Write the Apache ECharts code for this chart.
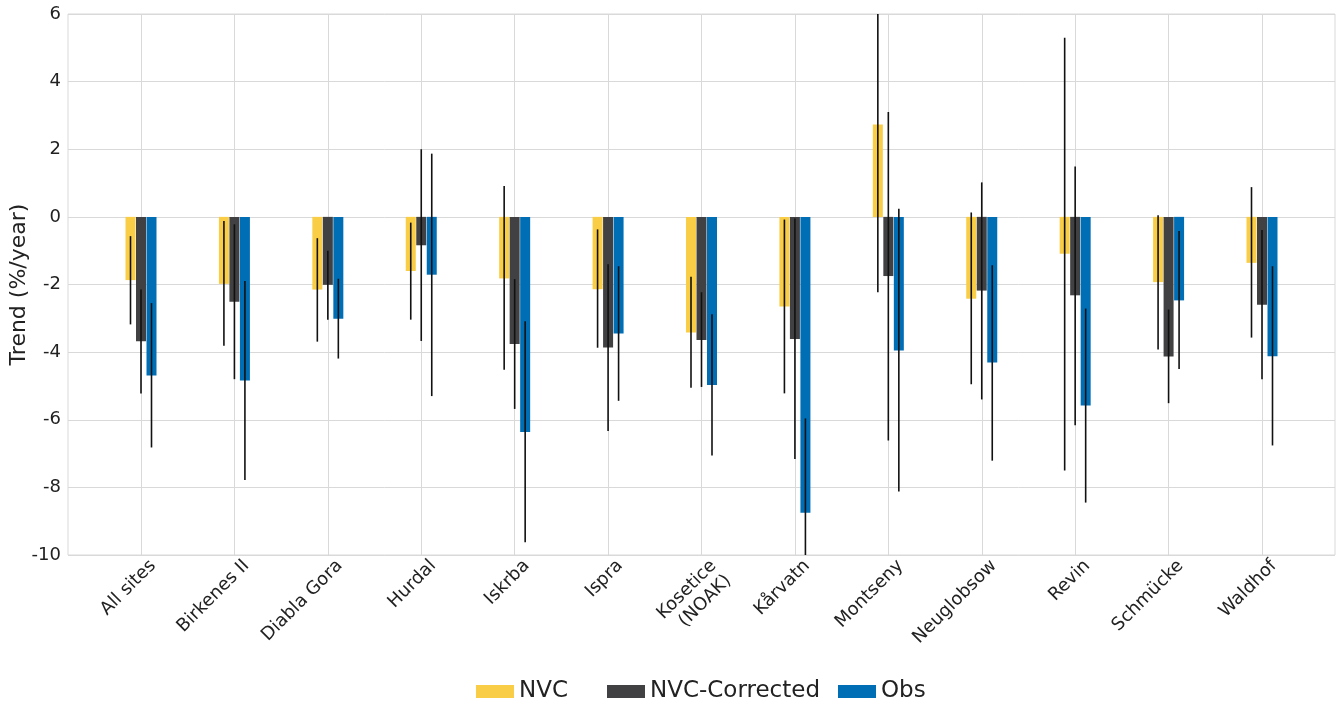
<!DOCTYPE html>
<html>
<head>
<meta charset="utf-8">
<title>Trend by site</title>
<script src="https://cdn.jsdelivr.net/npm/echarts@6/dist/echarts.min.js"></script>
<style>
  html, body { margin: 0; padding: 0; background: #fff; }
  #chart { width: 1340px; height: 702px; }
</style>
</head>
<body>
<div id="chart"></div>
<script>
// Sites on the category axis
const sites = ['All sites', 'Birkenes II', 'Diabla Gora', 'Hurdal', 'Iskrba', 'Ispra',
  'Kosetice\n(NOAK)', 'Kårvatn', 'Montseny', 'Neuglobsow', 'Revin', 'Schmücke', 'Waldhof'];

// Trend values (%/year)
const nvc          = [-1.87, -1.98, -2.15, -1.60, -1.82, -2.14, -3.42, -2.65,  2.73, -2.42, -1.09, -1.93, -1.36];
const nvcCorrected = [-3.68, -2.51, -2.01, -0.84, -3.76, -3.86, -3.64, -3.61, -1.75, -2.18, -2.32, -4.13, -2.60];
const obs          = [-4.69, -4.84, -3.01, -1.71, -6.36, -3.45, -4.97, -8.75, -3.95, -4.31, -5.58, -2.47, -4.12];

// Uncertainty ranges [low, high]
const nvcLow  = [-3.18, -3.81, -3.69, -3.04, -4.52, -3.87, -5.05, -5.22, -2.23, -4.95, -7.50, -3.92, -3.57];
const nvcHigh = [-0.57, -0.12, -0.63, -0.17,  0.91, -0.37, -1.77, -0.08,  7.69,  0.13,  5.30,  0.05,  0.88];
const corLow  = [-5.22, -4.80, -3.04, -3.67, -5.68, -6.33, -5.03, -7.16, -6.61, -5.40, -6.16, -5.51, -4.80];
const corHigh = [-2.15, -0.22, -1.00,  2.00, -1.84, -1.40, -2.23, -0.05,  3.10,  1.02,  1.49, -2.74, -0.39];
const obsLow  = [-6.82, -7.78, -4.19, -5.30, -9.62, -5.44, -7.06, -11.54, -8.12, -7.21, -8.45, -4.50, -6.76];
const obsHigh = [-2.55, -1.90, -1.83,  1.87, -3.09, -1.46, -2.88, -5.96,  0.24, -1.43, -2.71, -0.42, -1.46];

const seriesNames = ['NVC', 'NVC-Corrected', 'Obs'];
const yTicks = { min: -10, max: 6, interval: 2 };

const colors = ['#F9CD45', '#414042', '#006EB5'];
const BAR_W = 10;
const BAR_STEP = 10.5;
const FONT = '"DejaVu Sans", sans-serif';
const TEXT = '#222222';
const GRID_LINE = '#d9d9d9';

const values = [nvc, nvcCorrected, obs];
const lows = [nvcLow, corLow, obsLow];
const highs = [nvcHigh, corHigh, obsHigh];

// rows: [siteIndex, seriesIndex, low, high]
const errRows = [];
for (let k = 0; k < 3; k++) {
  for (let i = 0; i < sites.length; i++) {
    errRows.push([i, k, lows[k][i], highs[k][i]]);
  }
}

// one legend block per series, each placed on its own
const legendLefts = [471, 602, 833];
const legends = seriesNames.map((name, k) => ({
  data: [name],
  left: legendLefts[k],
  top: 675,
  itemWidth: 38,
  itemHeight: 13,
  icon: 'rect',
  textStyle: { fontSize: 23, color: TEXT, fontFamily: FONT }
}));

// rotated site labels: a blank spacer line on top nudges each label
// down along its own normal (taller spacer for two-line names)
function siteLabel(name) {
  const lines = name.split('\n');
  const spacer = lines.length > 1 ? '{s2| }' : '{s| }';
  return spacer + '\n' + lines.map(s => '{q|' + s + '}').join('\n');
}

const chart = echarts.init(document.getElementById('chart'), null, { renderer: 'canvas' });

const option = {
  backgroundColor: '#ffffff',
  animation: false,
  textStyle: { fontFamily: FONT },
  legend: legends,
  grid: [
    { left: 68, right: 5, top: 14, bottom: 147, show: true, borderColor: GRID_LINE, borderWidth: 1,
      outerBoundsMode: 'none', containLabel: false },
    { left: 141, right: 78, top: 14, bottom: 147, outerBoundsMode: 'none', containLabel: false }
  ],
  xAxis: [
    { type: 'value', gridIndex: 0, show: false, min: 0, max: 1 },
    {
      type: 'category', gridIndex: 1, data: sites, boundaryGap: false,
      axisLine: { show: false }, axisTick: { show: false },
      splitLine: { show: true, lineStyle: { color: GRID_LINE, width: 1 } },
      axisLabel: {
        rotate: 45, color: TEXT, margin: -4, interval: 0,
        formatter: siteLabel,
        rich: {
          s: { fontSize: 10, lineHeight: 34, color: TEXT, fontFamily: FONT },
          s2: { fontSize: 10, lineHeight: 55, color: TEXT, fontFamily: FONT },
          q: { fontSize: 18, lineHeight: 21, color: TEXT, fontFamily: FONT }
        }
      }
    }
  ],
  yAxis: [
    {
      type: 'value', gridIndex: 0, min: yTicks.min, max: yTicks.max, interval: yTicks.interval,
      name: 'Trend (%/year)', nameLocation: 'middle', nameGap: 38, nameRotate: 90,
      nameMoveOverlap: false,
      nameTextStyle: { fontSize: 22, color: TEXT, fontFamily: FONT },
      axisLine: { show: false }, axisTick: { show: false },
      axisLabel: { fontSize: 18, color: TEXT, margin: 7, fontFamily: FONT },
      splitLine: { show: true, lineStyle: { color: GRID_LINE, width: 1 } }
    },
    {
      type: 'value', gridIndex: 1, min: yTicks.min, max: yTicks.max, interval: yTicks.interval,
      show: false, splitLine: { show: false }
    }
  ],
  series: [
    ...seriesNames.map((name, k) => ({
      name: name,
      type: 'bar',
      xAxisIndex: 1,
      yAxisIndex: 1,
      data: values[k],
      barWidth: BAR_W,
      barGap: '5%',
      clip: false,
      itemStyle: { color: colors[k] }
    })),
    {
      name: 'range',
      type: 'custom',
      xAxisIndex: 1,
      yAxisIndex: 1,
      clip: false,
      z: 5,
      data: errRows,
      encode: { x: 0, y: [2, 3] },
      renderItem: function (params, api) {
        const i = api.value(0);
        const k = api.value(1);
        const top = api.coord([i, api.value(3)]);
        const bot = api.coord([i, api.value(2)]);
        const cs = params.coordSys;
        // keep the range line inside the plotting area
        const y1 = Math.max(cs.y, top[1]);
        const y2 = Math.min(cs.y + cs.height, bot[1]);
        const x = top[0] + (k - 1) * BAR_STEP;
        return {
          type: 'line',
          shape: { x1: x, y1: y1, x2: x, y2: y2 },
          style: { stroke: '#111', lineWidth: 1.6 }
        };
      }
    }
  ]
};

chart.setOption(option);
</script>
</body>
</html>
